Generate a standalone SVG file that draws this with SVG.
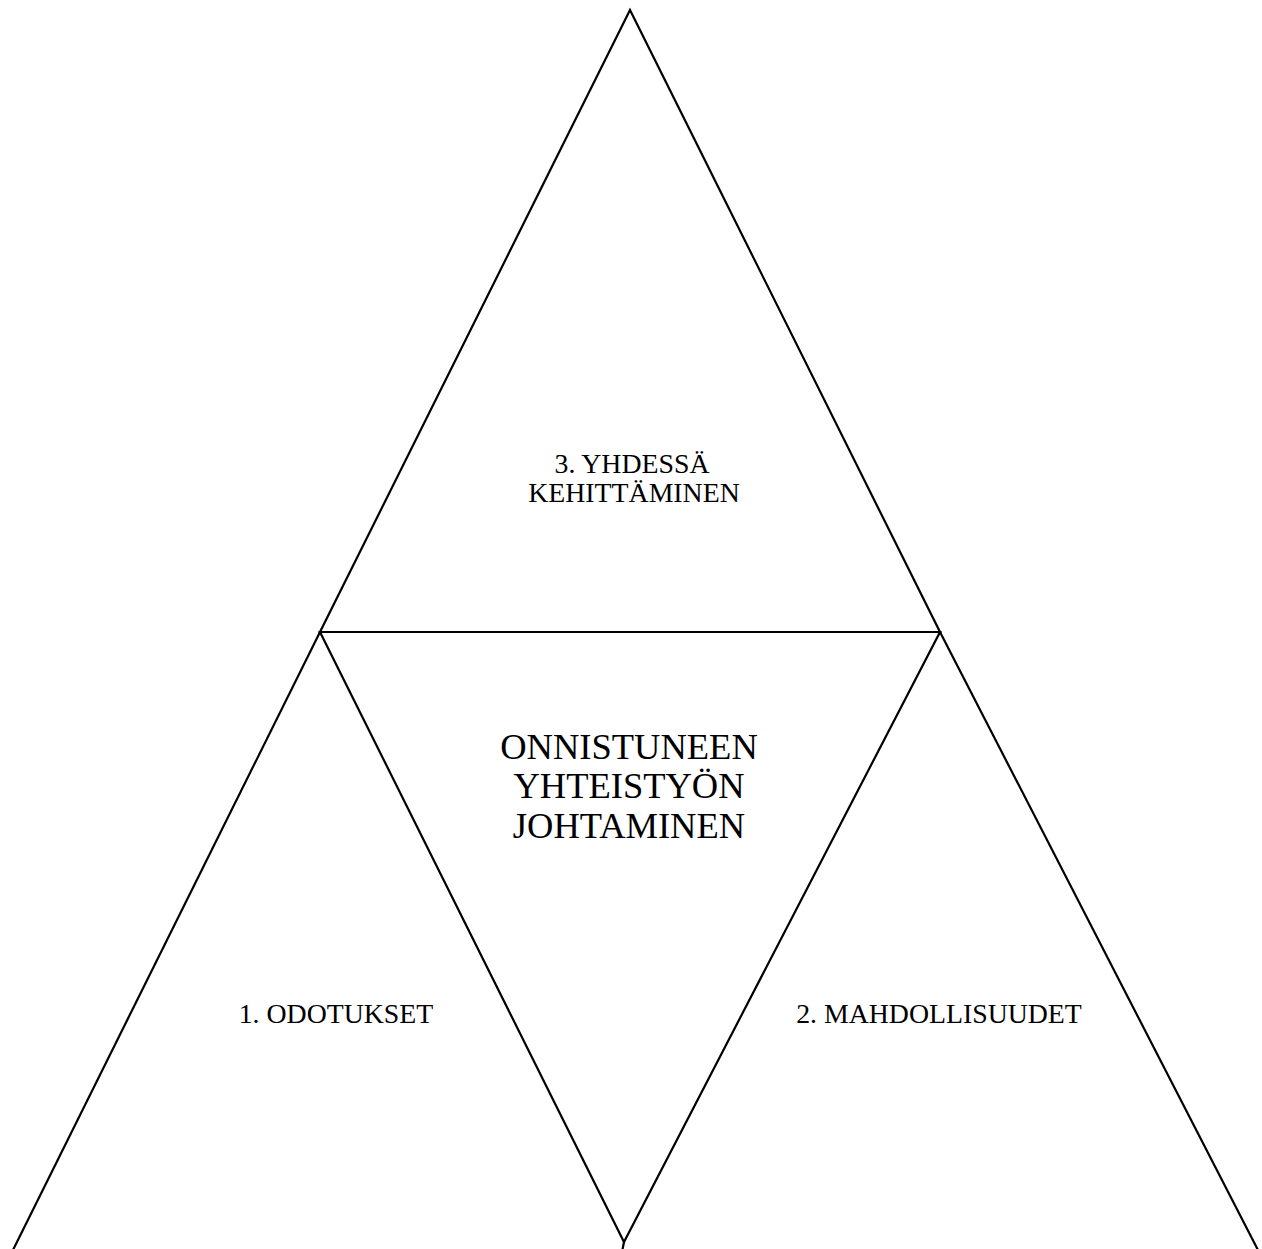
<svg xmlns="http://www.w3.org/2000/svg" width="1262" height="1249" viewBox="0 0 1262 1249">
<style>
.edge{fill:none;stroke:#000;stroke-width:2.2;stroke-linejoin:miter}
.lbl{font-family:"Liberation Serif","Times New Roman",serif;font-size:27.8px;fill:#000;text-anchor:middle}
.big{font-family:"Liberation Serif","Times New Roman",serif;font-size:36.5px;fill:#000;text-anchor:middle}
</style>
<rect width="1262" height="1249" fill="#fff"/>
<g id="connectors">
</g>
<g id="top-triangle">
<polygon class="edge" points="630,10 320,632 940,632"/>
<text class="lbl" x="632" y="473">3. YHDESSÄ</text>
<text class="lbl" x="634" y="502">KEHITTÄMINEN</text>
</g>
<g id="center-triangle">
<polygon class="edge" points="320,632 940,632 624,1242"/>
<polyline class="edge" points="624,1242 622,1252"/>
<text class="big" x="629" y="759">ONNISTUNEEN</text>
<text class="big" x="629" y="798">YHTEISTYÖN</text>
<text class="big" x="629" y="838">JOHTAMINEN</text>
</g>
<g id="left-triangle">
<polyline class="edge" points="12,1252 320,632"/>
<text class="lbl" x="336" y="1023">1. ODOTUKSET</text>
</g>
<g id="right-triangle">
<polyline class="edge" points="940,632 1259,1252"/>
<text class="lbl" x="939" y="1023">2. MAHDOLLISUUDET</text>
</g>
</svg>
